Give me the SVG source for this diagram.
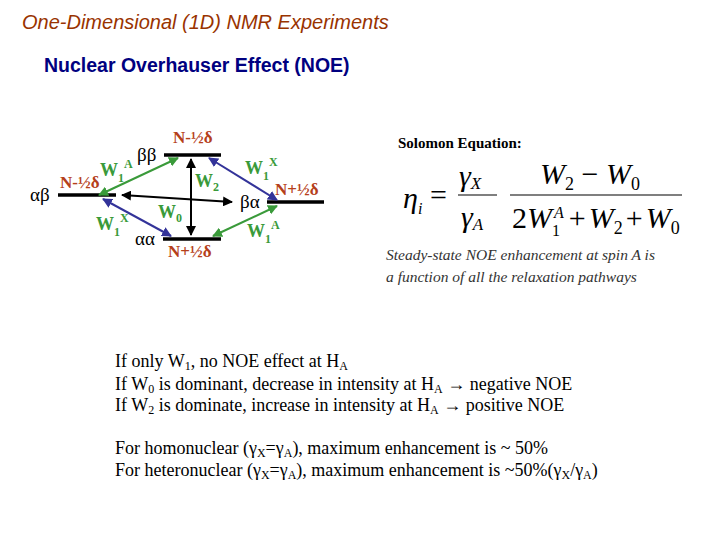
<svg xmlns="http://www.w3.org/2000/svg" width="720" height="540" viewBox="0 0 720 540">
<style>
.lv{stroke:#000;stroke-width:3.5}
.st{font-family:"Liberation Serif",serif;font-size:19px;fill:#000}
.en{font-family:"Liberation Serif",serif;font-size:17px;font-weight:bold;fill:#b5401a}
.w{font-family:"Liberation Serif",serif;font-size:18px;font-weight:bold;fill:#3a9a3a}
.sb{font-size:12px}
.g{stroke:#3a9a3a;stroke-width:2;fill:none;marker-start:url(#ag);marker-end:url(#ag)}
.b{stroke:#333399;stroke-width:2;fill:none;marker-start:url(#ab);marker-end:url(#ab)}
.k{stroke:#000;stroke-width:2;fill:none;marker-start:url(#ak);marker-end:url(#ak)}
.eq{font-family:"Liberation Serif",serif;font-style:italic;font-size:30px;fill:#000}
.eu{font-family:"Liberation Serif",serif;font-size:30px;fill:#000}
.bt{font-family:"Liberation Serif",serif;font-size:18px;fill:#000}
</style>
<defs>
<marker id="ag" viewBox="0 0 10 10" refX="9" refY="5" markerWidth="5" markerHeight="5" orient="auto-start-reverse"><path d="M0,0L10,5L0,10z" fill="#3a9a3a"/></marker>
<marker id="ab" viewBox="0 0 10 10" refX="9" refY="5" markerWidth="5" markerHeight="5" orient="auto-start-reverse"><path d="M0,0L10,5L0,10z" fill="#333399"/></marker>
<marker id="ak" viewBox="0 0 10 10" refX="9" refY="5" markerWidth="5" markerHeight="5" orient="auto-start-reverse"><path d="M0,0L10,5L0,10z" fill="#000"/></marker>
</defs>
<text x="22" y="29" style="font-family:'Liberation Sans',sans-serif;font-style:italic;font-size:20px;fill:#993300">One-Dimensional (1D) NMR Experiments</text>
<text x="44" y="72" style="font-family:'Liberation Sans',sans-serif;font-weight:bold;font-size:19.5px;fill:#000080">Nuclear Overhauser Effect (NOE)</text>

<g id="bb"><line class="lv" x1="164" y1="155" x2="221" y2="155"/><text class="st" x="137" y="161">ββ</text><text class="en" x="173" y="143">N-½δ</text></g>
<g id="ab-level"><line class="lv" x1="58" y1="195" x2="116" y2="195"/><text class="st" x="30" y="201">αβ</text><text class="en" x="60" y="188">N-½δ</text></g>
<g id="ba"><line class="lv" x1="267" y1="202" x2="324" y2="202"/><text class="st" x="240" y="208">βα</text><text class="en" x="275" y="195">N+½δ</text></g>
<g id="aa"><line class="lv" x1="163" y1="239" x2="221" y2="239"/><text class="st" x="135" y="245">αα</text><text class="en" x="168" y="257">N+½δ</text></g>

<g id="connectors">
<line class="k" x1="191" y1="159" x2="191" y2="235"/>
<line class="k" x1="122" y1="195" x2="232" y2="202"/>
<line class="g" x1="99" y1="195" x2="178" y2="158"/>
<line class="b" x1="209" y1="158" x2="277" y2="200"/>
<line class="b" x1="103" y1="199" x2="171" y2="236"/>
<line class="g" x1="213" y1="236" x2="277" y2="206"/>
</g>
<g id="labels">
<text class="w" x="195" y="187">W<tspan class="sb" dy="4">2</tspan></text>
<text class="w" x="158" y="218">W<tspan class="sb" dy="4">0</tspan></text>
<text class="w" x="100" y="176">W<tspan class="sb" dy="6">1</tspan><tspan class="sb" dy="-14">A</tspan></text>
<text class="w" x="245" y="174">W<tspan class="sb" dy="6">1</tspan><tspan class="sb" dy="-14">X</tspan></text>
<text class="w" x="96" y="230">W<tspan class="sb" dy="6">1</tspan><tspan class="sb" dy="-14">X</tspan></text>
<text class="w" x="247" y="237">W<tspan class="sb" dy="6">1</tspan><tspan class="sb" dy="-14">A</tspan></text>
</g>

<text x="398" y="148" style="font-family:'Liberation Serif',serif;font-weight:bold;font-size:15px">Solomon Equation:</text>
<g id="equation">
<text class="eq" x="403" y="208">η<tspan font-size="16" dy="6">i</tspan></text>
<text class="eu" x="430" y="205">=</text>
<text class="eq" x="459" y="186">γ<tspan font-size="17" dy="3">X</tspan></text>
<line x1="458" y1="195" x2="497" y2="195" stroke="#000" stroke-width="1.2"/>
<text class="eq" x="461" y="227">γ<tspan font-size="17" dy="3">A</tspan></text>
<line x1="510" y1="195" x2="682" y2="195" stroke="#000" stroke-width="1.2"/>
<text class="eq" x="540" y="184">W<tspan font-style="normal" font-size="18" dy="6">2</tspan><tspan font-style="normal" dy="-6"> − </tspan>W<tspan font-style="normal" font-size="18" dy="6">0</tspan></text>
<text class="eq" x="512" y="228"><tspan font-style="normal">2</tspan>W<tspan font-style="normal" font-size="16" dy="8">1</tspan><tspan font-size="16" dx="-6" dy="-18">A</tspan><tspan font-style="normal" dx="5" dy="10">+</tspan><tspan dx="3">W</tspan><tspan font-style="normal" font-size="18" dy="6">2</tspan><tspan font-style="normal" dx="3" dy="-6">+</tspan><tspan dx="3">W</tspan><tspan font-style="normal" font-size="18" dy="6">0</tspan></text>
</g>
<text x="386" y="260" style="font-family:'Liberation Serif',serif;font-style:italic;font-size:15.5px;fill:#333">Steady-state NOE enhancement at spin A is</text>
<text x="386" y="282" style="font-family:'Liberation Serif',serif;font-style:italic;font-size:15.5px;fill:#333">a function of all the relaxation pathways</text>

<g id="notes">
<text class="bt" x="115" y="367">If only W<tspan font-size="12" dy="3">1</tspan><tspan dy="-3">, no NOE effect at H</tspan><tspan font-size="12" dy="3">A</tspan></text>
<text class="bt" x="115" y="390">If W<tspan font-size="12" dy="3">0</tspan><tspan dy="-3"> is dominant, decrease in intensity at H</tspan><tspan font-size="12" dy="3">A</tspan><tspan dy="-3"> → negative NOE</tspan></text>
<text class="bt" x="115" y="411">If W<tspan font-size="12" dy="3">2</tspan><tspan dy="-3"> is dominate, increase in intensity at H</tspan><tspan font-size="12" dy="3">A</tspan><tspan dy="-3"> → positive NOE</tspan></text>
<text class="bt" x="115" y="454">For homonuclear (γ<tspan font-size="12" dy="3">X</tspan><tspan dy="-3">=γ</tspan><tspan font-size="12" dy="3">A</tspan><tspan dy="-3">), maximum enhancement is ~ 50%</tspan></text>
<text class="bt" x="115" y="476">For heteronuclear (γ<tspan font-size="12" dy="3">X</tspan><tspan dy="-3">=γ</tspan><tspan font-size="12" dy="3">A</tspan><tspan dy="-3">),  maximum enhancement is ~50%(γ</tspan><tspan font-size="12" dy="3">X</tspan><tspan dy="-3">/γ</tspan><tspan font-size="12" dy="3">A</tspan><tspan dy="-3">)</tspan></text>
</g>
</svg>
